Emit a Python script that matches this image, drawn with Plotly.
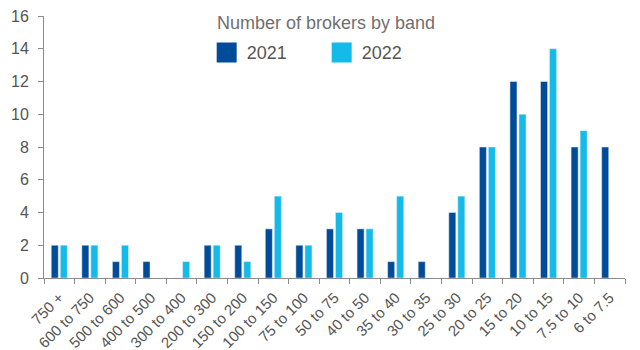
import plotly.graph_objects as go

bands = ["750 +", "600 to 750", "500 to 600", "400 to 500", "300 to 400", "200 to 300",
         "150 to 200", "100 to 150", "75 to 100", "50 to 75", "40 to 50", "35 to 40",
         "30 to 35", "25 to 30", "20 to 25", "15 to 20", "10 to 15", "7.5 to 10", "6 to 7.5"]
v2021 = [2, 2, 1, 1, 0, 2, 2, 3, 2, 3, 3, 1, 1, 4, 8, 12, 12, 8, 8]
v2022 = [2, 2, 2, 0, 1, 2, 1, 5, 2, 4, 3, 5, 0, 5, 8, 10, 14, 9, 0]
y_ticks = [0, 2, 4, 6, 8, 10, 12, 14, 16]
series = [("2021", v2021, "#004C99"), ("2022", v2022, "#14BAE8")]

axis_col = "#8c8c8c"
txt_col = "#555555"
font_fam = "Liberation Sans, Arial, sans-serif"

fig = go.Figure()
for name, vals, col in series:
    fig.add_trace(go.Bar(x=bands, y=vals, name=name, marker_color=col,
                         legendgroup=name, showlegend=False))
for name, vals, col in series:
    fig.add_trace(go.Scatter(x=[None], y=[None], mode="markers", name=name,
                             legendgroup=name,
                             marker=dict(symbol="square", size=16, color=col,
                                         line=dict(color=col, width=4))))

fig.update_layout(
    width=640, height=350,
    margin=dict(l=44, r=15, t=16, b=72),
    paper_bgcolor="white", plot_bgcolor="white",
    barmode="group", bargap=0.41, bargroupgap=0.22,
    font=dict(family=font_fam, color=txt_col, size=13),
    showlegend=True,
    legend=dict(orientation="h", x=0.28, xanchor="left", y=0.86, yanchor="middle",
                font=dict(size=18, color=txt_col), bgcolor="rgba(0,0,0,0)",
                itemwidth=30, itemsizing="trace", entrywidth=70, entrywidthmode="pixels",
                tracegroupgap=0),
    annotations=[dict(text="Number of brokers by band", xref="paper", yref="paper",
                      x=0.485, y=0.975, xanchor="center", yanchor="middle", showarrow=False,
                      font=dict(size=18, color="#707070", family=font_fam))],
)
fig.update_xaxes(type="category", range=[-0.5, 18.5], tickson="boundaries",
                 ticks="outside", ticklen=5, tickcolor=axis_col, showline=True,
                 linecolor=axis_col, linewidth=1, tickangle=-45, showgrid=False,
                 automargin=False, tickfont=dict(size=15, color=txt_col),
                 ticklabelstandoff=4)
fig.update_yaxes(range=[0, 16], tickvals=y_ticks, ticks="outside", ticklen=5,
                 tickcolor=axis_col, showline=True, linecolor=axis_col, linewidth=1,
                 showgrid=False, zeroline=False, automargin=False,
                 tickfont=dict(size=16, color=txt_col), ticklabelstandoff=6)

fig.write_html("out.html")
